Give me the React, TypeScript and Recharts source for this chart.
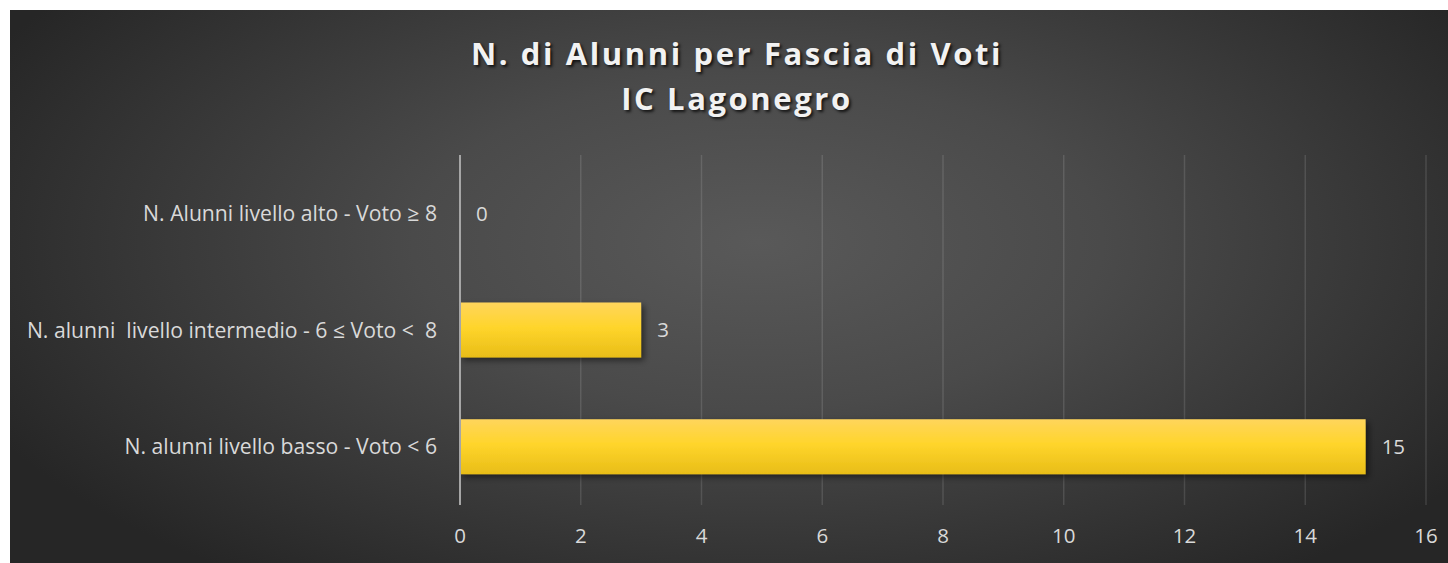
import React from "react";
import { BarChart, Bar, XAxis, YAxis, CartesianGrid, LabelList } from "recharts";

const categories = [
  "N. Alunni livello alto - Voto ≥ 8",
  "N. alunni  livello intermedio - 6 ≤ Voto <  8",
  "N. alunni livello basso - Voto < 6",
];
const values = [0, 3, 15];
const xTicks = [0, 2, 4, 6, 8, 10, 12, 14, 16];
const titleLines = ["N. di Alunni per Fascia di Voti", "IC Lagonegro"];

const data = categories.map((name, i) => ({ name, value: values[i] }));

const FONT = "'Open Sans', 'Noto Sans', sans-serif";

const CategoryTick = (props: any) => {
  const { x, y, payload } = props;
  return (
    <text
      x={x}
      y={y}
      dy="0.355em"
      textAnchor="end"
      fill="#d9d9d9"
      fontSize={21.2}
      fontFamily={FONT}
      style={{ whiteSpace: "pre" }}
    >
      {payload.value}
    </text>
  );
};

export default function App() {
  return (
    <div
      style={{
        position: "absolute",
        left: 10,
        top: 10,
        width: 1438,
        height: 553,
        background:
          "radial-gradient(ellipse 60% 75% at 52% 42%, #595959 0%, #4a4a4a 40%, #262626 100%)",
        fontFamily: FONT,
        overflow: "hidden",
      }}
    >
      <div
        style={{
          position: "absolute",
          left: 0,
          top: 21,
          width: 1454,
          textAlign: "center",
          color: "#f2f2f2",
          fontWeight: 700,
          fontSize: 31,
          letterSpacing: 2.6,
          lineHeight: "45px",
          textShadow: "2px 2px 3px rgba(0,0,0,0.75)",
          fontFamily: FONT,
        }}
      >
        {titleLines.map((t) => (
          <div key={t} style={{ whiteSpace: "pre" }}>
            {t}
          </div>
        ))}
      </div>
      <BarChart
        width={1438}
        height={553}
        data={data}
        layout="vertical"
        margin={{ top: 145, right: 22, bottom: 0, left: 0 }}
        barCategoryGap="26.5%"
        style={{ position: "absolute", left: 0, top: 0 }}
      >
        <defs>
          <linearGradient id="barGrad" x1="0" y1="0" x2="0" y2="1">
            <stop offset="0%" stopColor="#FFD55C" />
            <stop offset="45%" stopColor="#FFD52B" />
            <stop offset="100%" stopColor="#E8BD18" />
          </linearGradient>
          <filter id="barShadow" x="-5%" y="-20%" width="115%" height="160%">
            <feDropShadow dx="3" dy="3" stdDeviation="3" floodColor="#000" floodOpacity="0.5" />
          </filter>
        </defs>
        <CartesianGrid
          horizontal={false}
          vertical={true}
          stroke="rgba(255,255,255,0.12)"
          strokeWidth={1.5}
        />
        <XAxis
          type="number"
          domain={[0, 16]}
          ticks={xTicks}
          axisLine={false}
          tickLine={false}
          height={58}
          tickMargin={17}
          tick={{ fill: "#d9d9d9", fontSize: 20.5, fontFamily: FONT }}
          interval={0}
        />
        <YAxis
          type="category"
          dataKey="name"
          width={450}
          axisLine={{ stroke: "#a6a6a6", strokeWidth: 2 }}
          tickLine={false}
          tickMargin={17}
          tick={<CategoryTick />}
          interval={0}
        />
        <Bar
          dataKey="value"
          fill="url(#barGrad)"
          filter="url(#barShadow)"
          minPointSize={0.01}
          isAnimationActive={false}
        >
          <LabelList
            dataKey="value"
            position="right"
            offset={16}
            fill="#d9d9d9"
            fontSize={20.5}
            fontFamily={FONT}
          />
        </Bar>
      </BarChart>
    </div>
  );
}
